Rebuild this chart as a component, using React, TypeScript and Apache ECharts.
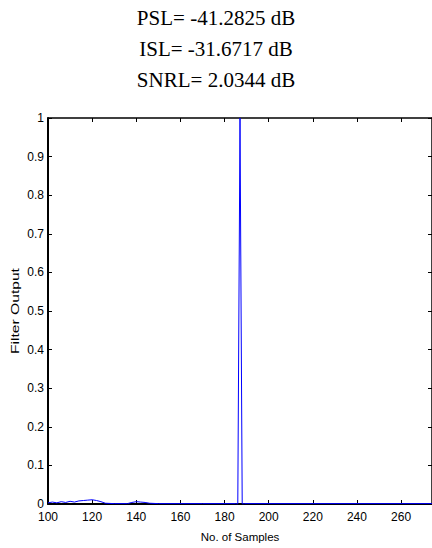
import React, { useEffect, useRef } from "react";
import * as echarts from "echarts";

const titleLines = ["PSL= -41.2825 dB", "ISL= -31.6717 dB", "SNRL= 2.0344 dB"];
const sampleIdx = [100, 102, 104, 106, 108, 110, 112, 114, 116, 118, 120, 122, 124, 126, 130, 136, 138, 140, 142, 144, 146, 150, 170, 185, 186, 187, 188, 189, 220, 274];
const filterOut = [0.003, 0.005, 0.003, 0.006, 0.004, 0.007, 0.005, 0.008, 0.009, 0.010, 0.011, 0.009, 0.006, 0.002, 0.001, 0.001, 0.004, 0.006, 0.005, 0.004, 0.002, 0.001, 0.001, 0.001, 0.0, 1.0, 0.0, 0.001, 0.001, 0.001];
const xMin = 100;
const xMax = 274;
const xInterval = 20;
const yTicks = [0, 0.1, 0.2, 0.3, 0.4, 0.5, 0.6, 0.7, 0.8, 0.9, 1];
const xName = "No. of Samples";
const yName = "Filter Output";

export default function App() {
  const ref = useRef<HTMLDivElement>(null);
  useEffect(() => {
    if (!ref.current) return;
    const chart = echarts.init(ref.current, null, { renderer: "svg" });
    const mainLine = { show: true, onZero: false, lineStyle: { color: "#000", width: 2 } };
    const sideLine = { show: true, onZero: false, lineStyle: { color: "#000", width: 1.5 } };
    const tick = { show: true, inside: true, length: 4, lineStyle: { color: "#000", width: 1 } };
    const lbl = { color: "#000", fontFamily: "Liberation Sans, Arial", fontSize: 12, lineHeight: 12 };
    const titles = titleLines.map((t, i) => ({
      type: "text",
      x: 216,
      y: 18 + i * 31,
      style: {
        text: t,
        font: "21px 'Liberation Serif', 'Times New Roman', serif",
        fill: "#000",
        textAlign: "center",
        textVerticalAlign: "middle",
      },
    }));
    chart.setOption({
      animation: false,
      backgroundColor: "#fff",
      graphic: [
        ...titles,
        {
          type: "text",
          x: 15,
          y: 311,
          rotation: Math.PI / 2,
          scaleX: 1.42,
          scaleY: 1,
          style: {
            text: yName,
            font: "11px 'Liberation Sans', Arial, sans-serif",
            fill: "#000",
            textAlign: "center",
            textVerticalAlign: "middle",
          },
        },
      ],
      grid: { left: 48, top: 118, right: -2, bottom: 42.5, containLabel: false },
      xAxis: [
        {
          type: "value", min: xMin, max: xMax, interval: xInterval,
          axisLine: mainLine, axisTick: tick, splitLine: { show: false },
          axisLabel: { ...lbl, margin: 7, showMaxLabel: false },
          name: xName, nameLocation: "middle", nameGap: 27,
          nameTextStyle: { color: "#000", fontFamily: "Liberation Sans, Arial", fontSize: 11.5 },
        },
        {
          type: "value", position: "top", min: xMin, max: xMax, interval: xInterval,
          axisLine: sideLine, axisTick: tick, axisLabel: { show: false }, splitLine: { show: false },
        },
      ],
      yAxis: [
        {
          type: "value", min: 0, max: 1, interval: 0.1,
          axisLine: mainLine, axisTick: tick, splitLine: { show: false },
          axisLabel: { ...lbl, margin: 4, formatter: (v: number) => {
            const f = yTicks.find((t) => Math.abs(t - v) < 1e-9);
            return f === undefined ? "" : String(f);
          } },
        },
        {
          type: "value", position: "right", min: 0, max: 1, interval: 0.1,
          axisLine: sideLine, axisTick: tick, axisLabel: { show: false }, splitLine: { show: false },
        },
      ],
      series: [
        {
          type: "line",
          data: sampleIdx.map((x, i) => [x, filterOut[i]]),
          showSymbol: false,
          symbol: "none",
          lineStyle: { color: "#0000ff", width: 1 },
          clip: true,
        },
      ],
    });
    return () => chart.dispose();
  }, []);
  return (
    <div style={{ position: "absolute", left: 0, top: 0, width: 432, height: 548, overflow: "hidden", background: "#fff" }}>
      <div ref={ref} style={{ width: 432, height: 548 }} />
    </div>
  );
}
